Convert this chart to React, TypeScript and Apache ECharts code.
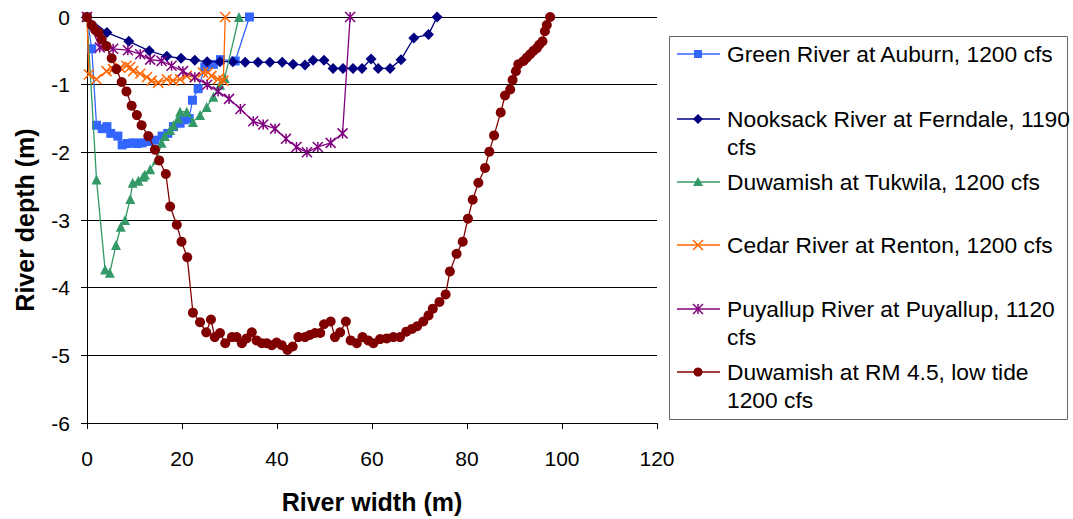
import React, { useEffect, useRef } from "react";
import * as echarts from "echarts";

const FONT = "'Liberation Sans', Arial, sans-serif";

const greenX = [0, 1.0, 2.0, 3.2, 4.2, 5.0, 6.5, 7.4, 8.5, 9.7, 10.6, 11.6, 13.0, 14.3, 15.8, 17.0, 18.2, 19.6, 20.5, 21.5, 22.2, 23.4, 24.8, 26.6, 28.1, 31.2, 34.2];
const greenY = [0, -0.47, -1.6, -1.65, -1.62, -1.72, -1.76, -1.89, -1.87, -1.86, -1.87, -1.86, -1.84, -1.82, -1.76, -1.72, -1.62, -1.57, -1.52, -1.5, -1.23, -1.06, -0.74, -0.7, -0.63, -0.65, 0];

const nookX = [0, 4.2, 8.8, 13.1, 16.8, 19.8, 22.7, 25.3, 28.0, 30.7, 33.3, 36.0, 38.5, 41.1, 43.4, 45.9, 47.6, 49.9, 51.8, 53.9, 56.0, 57.9, 59.8, 61.3, 63.8, 66.1, 68.8, 71.9, 73.7];
const nookY = [0, -0.23, -0.36, -0.5, -0.58, -0.61, -0.64, -0.66, -0.66, -0.66, -0.67, -0.67, -0.67, -0.67, -0.7, -0.71, -0.64, -0.64, -0.76, -0.76, -0.76, -0.76, -0.62, -0.76, -0.76, -0.63, -0.31, -0.26, 0];

const tukX = [0, 2.0, 3.8, 4.8, 6.1, 7.1, 8.0, 9.1, 9.6, 10.8, 11.8, 12.2, 13.3, 14.7, 15.7, 16.4, 17.5, 18.2, 19.2, 19.6, 21.0, 22.3, 23.8, 25.2, 26.6, 28.0, 29.0, 32.0];
const tukY = [0, -2.4, -3.73, -3.78, -3.37, -3.1, -3.0, -2.69, -2.45, -2.42, -2.36, -2.33, -2.25, -2.11, -1.86, -1.76, -1.67, -1.6, -1.5, -1.4, -1.4, -1.55, -1.45, -1.33, -1.18, -1.0, -0.9, 0];

const cedarX = [0, 0.4, 2.0, 4.1, 5.5, 7.0, 8.3, 9.1, 9.7, 11.2, 12.6, 13.6, 15.0, 16.8, 18.1, 19.6, 21.0, 22.7, 24.4, 25.5, 26.2, 27.6, 28.7, 29.1];
const cedarY = [0, -0.85, -0.92, -0.8, -0.77, -0.75, -0.72, -0.74, -0.8, -0.84, -0.89, -0.94, -0.97, -0.92, -0.94, -0.92, -0.87, -0.89, -0.82, -0.82, -0.87, -0.92, -0.94, 0];

const puyX = [0, 2.7, 5.5, 8.6, 11.2, 13.3, 15.7, 17.8, 20.2, 22.7, 25.3, 27.6, 29.9, 32.3, 35.0, 37.1, 39.6, 41.9, 44.1, 46.3, 48.6, 51.3, 53.8, 55.4];
const puyY = [0, -0.45, -0.47, -0.49, -0.55, -0.63, -0.65, -0.72, -0.8, -0.89, -1.0, -1.1, -1.21, -1.36, -1.54, -1.59, -1.65, -1.8, -1.92, -2.0, -1.92, -1.86, -1.72, 0];

const rmX = [0, 1.0, 1.7, 2.4, 3.1, 4.1, 5.2, 6.2, 7.3, 8.3, 9.4, 10.5, 11.5, 12.9, 14.3, 15.2, 16.6, 17.5, 18.9, 19.9, 21.1, 22.3, 23.8, 25.1, 26.1, 26.9, 28.0, 29.1, 30.5, 31.5, 32.6, 33.6, 34.7, 35.7, 36.8, 37.8, 38.9, 39.9, 41.0, 42.2, 43.3, 44.5, 45.9, 46.9, 48.0, 49.1, 49.9, 51.3, 52.2, 53.3, 54.5, 55.5, 56.8, 58.0, 59.2, 60.3, 61.7, 63.1, 64.5, 65.9, 67.2, 68.4, 69.5, 70.8, 71.9, 72.8, 74.2, 75.5, 76.4, 77.8, 79.1, 80.2, 81.2, 82.4, 83.8, 84.7, 85.7, 87.1, 88.0, 89.1, 89.6, 90.3, 90.8, 91.9, 92.6, 93.3, 94.0, 94.7, 95.2, 95.9, 96.4, 96.8, 97.5];
const rmY = [0, -0.12, -0.19, -0.23, -0.33, -0.43, -0.61, -0.77, -0.96, -1.1, -1.31, -1.45, -1.6, -1.76, -1.96, -2.12, -2.32, -2.8, -3.07, -3.32, -3.55, -4.37, -4.51, -4.66, -4.47, -4.73, -4.67, -4.82, -4.73, -4.73, -4.82, -4.75, -4.66, -4.78, -4.82, -4.82, -4.85, -4.81, -4.85, -4.92, -4.87, -4.73, -4.73, -4.7, -4.67, -4.67, -4.54, -4.5, -4.73, -4.66, -4.5, -4.78, -4.82, -4.73, -4.78, -4.82, -4.76, -4.75, -4.73, -4.73, -4.65, -4.61, -4.57, -4.5, -4.41, -4.31, -4.21, -4.1, -3.76, -3.5, -3.32, -2.98, -2.7, -2.45, -2.23, -1.99, -1.75, -1.41, -1.16, -1.07, -0.93, -0.8, -0.7, -0.65, -0.6, -0.55, -0.5, -0.46, -0.41, -0.36, -0.21, -0.12, 0];

const xTicks = [0, 20, 40, 60, 80, 100, 120];
const yTicks = [0, -1, -2, -3, -4, -5, -6];

const names = [
  "Green River at Auburn, 1200 cfs",
  "Nooksack River at Ferndale, 1190 cfs",
  "Duwamish at Tukwila, 1200 cfs",
  "Cedar River at Renton, 1200 cfs",
  "Puyallup River at Puyallup, 1120 cfs",
  "Duwamish at RM 4.5, low tide 1200 cfs",
];
const legendLines = [
  ["Green River at Auburn, 1200 cfs"],
  ["Nooksack River at Ferndale, 1190", "cfs"],
  ["Duwamish at Tukwila, 1200 cfs"],
  ["Cedar River at Renton, 1200 cfs"],
  ["Puyallup River at Puyallup, 1120", "cfs"],
  ["Duwamish at RM 4.5, low tide", "1200 cfs"],
];
const colors = ["#3366FF", "#000080", "#339966", "#FF6600", "#800080", "#800000"];

const X_PATH = "path://M0,0L10,10M10,0L0,10";
const AST_PATH = "path://M0,0L10,10M10,0L0,10M5,0L5,10";

function zip(xs: number[], ys: number[]) {
  return xs.map((x, i) => [x, ys[i]]);
}

export default function App() {
  const ref = useRef<HTMLDivElement>(null);
  useEffect(() => {
    if (!ref.current) return;
    const chart = echarts.init(ref.current, null, { renderer: "svg" });
    const datasets = [
      zip(greenX, greenY),
      zip(nookX, nookY),
      zip(tukX, tukY),
      zip(cedarX, cedarY),
      zip(puyX, puyY),
      zip(rmX, rmY),
    ];
    const symbols = ["rect", "diamond", "triangle", X_PATH, AST_PATH, "circle"];
    const sizes = [9, 11, 10, 10, 10, 10];
    const series = datasets.map((d, i) => ({
      name: names[i],
      type: "line",
      data: d,
      symbol: symbols[i],
      symbolSize: sizes[i],
      showSymbol: true,
      color: colors[i],
      lineStyle: { width: 1.3, color: colors[i] },
      itemStyle:
        i === 3 || i === 4
          ? { color: colors[i], borderColor: colors[i], borderWidth: 1.5 }
          : { color: colors[i], borderWidth: 0 },
      z: 2 + i,
    }));

    // legend graphic
    const lx0 = 677, lx1 = 720, lmx = 698, tx = 727;
    const rowsY = [54, 119, 182, 245, 309, 372];
    const lineH = 28;
    const g: any[] = [
      {
        type: "rect",
        shape: { x: 669.5, y: 36.5, width: 398, height: 383 },
        style: { fill: "#fff", stroke: "#666", lineWidth: 1 },
      },
    ];
    rowsY.forEach((y, i) => {
      const c = colors[i];
      g.push({ type: "line", shape: { x1: lx0, y1: y, x2: lx1, y2: y }, style: { stroke: c, lineWidth: 1.3 } });
      if (i === 0) g.push({ type: "rect", shape: { x: lmx - 4, y: y - 4, width: 8, height: 8 }, style: { fill: c } });
      if (i === 1) g.push({ type: "polygon", shape: { points: [[lmx, y - 5], [lmx + 5, y], [lmx, y + 5], [lmx - 5, y]] }, style: { fill: c } });
      if (i === 2) g.push({ type: "polygon", shape: { points: [[lmx, y - 5], [lmx + 5, y + 4], [lmx - 5, y + 4]] }, style: { fill: c } });
      if (i === 3 || i === 4) {
        g.push({ type: "line", shape: { x1: lmx - 5, y1: y - 5, x2: lmx + 5, y2: y + 5 }, style: { stroke: c, lineWidth: 1.5 } });
        g.push({ type: "line", shape: { x1: lmx + 5, y1: y - 5, x2: lmx - 5, y2: y + 5 }, style: { stroke: c, lineWidth: 1.5 } });
        if (i === 4) g.push({ type: "line", shape: { x1: lmx, y1: y - 5, x2: lmx, y2: y + 5 }, style: { stroke: c, lineWidth: 1.5 } });
      }
      if (i === 5) g.push({ type: "circle", shape: { cx: lmx, cy: y, r: 4.5 }, style: { fill: c } });
      legendLines[i].forEach((t, k) => {
        g.push({
          type: "text",
          x: tx,
          y: y + k * lineH,
          style: { text: t, fill: "#000", font: `22.8px ${FONT}`, verticalAlign: "middle", align: "left" },
        });
      });
    });

    chart.setOption({
      animation: false,
      backgroundColor: "#fff",
      textStyle: { fontFamily: FONT },
      grid: { left: 87, top: 17, width: 570, height: 412, containLabel: false },
      xAxis: {
        type: "value",
        min: xTicks[0],
        max: xTicks[xTicks.length - 1],
        interval: 20,
        name: "River width (m)",
        nameLocation: "middle",
        nameGap: 66,
        nameTextStyle: { fontSize: 25, fontWeight: "bold", color: "#000", fontFamily: FONT },
        axisLine: { onZero: false, lineStyle: { color: "#000", width: 1 } },
        axisTick: { show: true, inside: false, length: 6, lineStyle: { color: "#000" } },
        axisLabel: { fontSize: 21, color: "#000", margin: 25, fontFamily: FONT },
        splitLine: { show: false },
      },
      yAxis: {
        type: "value",
        min: yTicks[yTicks.length - 1],
        max: yTicks[0],
        interval: 1,
        name: "River depth (m)",
        nameLocation: "middle",
        nameGap: 50,
        nameTextStyle: { fontSize: 25, fontWeight: "bold", color: "#000", fontFamily: FONT },
        axisLine: { onZero: false, lineStyle: { color: "#000", width: 1 } },
        axisTick: { show: true, inside: false, length: 6, lineStyle: { color: "#000" } },
        axisLabel: { fontSize: 21, color: "#000", margin: 17, fontFamily: FONT },
        splitLine: { show: true, lineStyle: { color: "#000", width: 1 } },
      },
      graphic: g,
      series,
    });
    return () => chart.dispose();
  }, []);
  return <div ref={ref} style={{ position: "fixed", left: 0, top: 0, width: 1073, height: 519 }} />;
}
